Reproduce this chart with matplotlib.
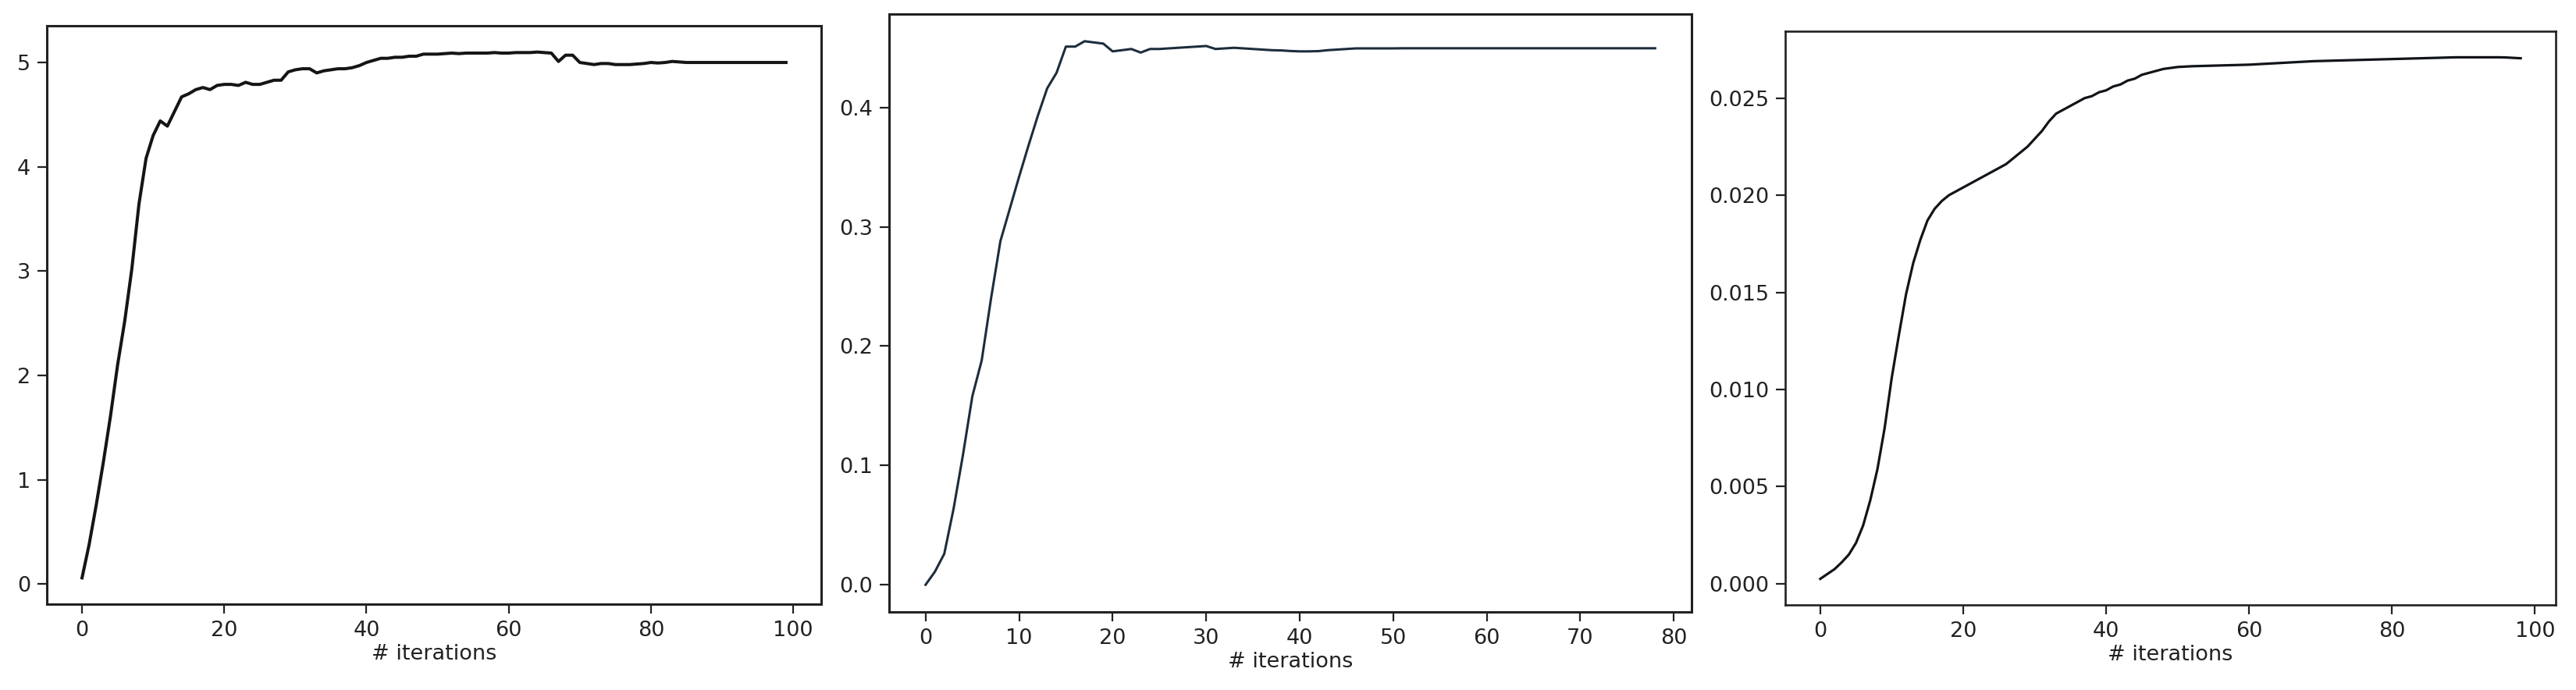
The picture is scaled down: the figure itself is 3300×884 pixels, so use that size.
import matplotlib
matplotlib.use("Agg")
import matplotlib.pyplot as plt
import numpy as np

# ---- data ----
p1_values = [0.06, 0.38, 0.76, 1.17, 1.61, 2.10, 2.52, 3.02, 3.64, 4.08,
             4.30, 4.44, 4.39, 4.53, 4.67, 4.70, 4.74, 4.76, 4.74, 4.78,
             4.79, 4.79, 4.78, 4.81, 4.79, 4.79, 4.81, 4.83, 4.83, 4.91,
             4.93, 4.94, 4.94, 4.90, 4.92, 4.93, 4.94, 4.94, 4.95, 4.97,
             5.00, 5.02, 5.04, 5.04, 5.05, 5.05, 5.06, 5.06, 5.08, 5.08,
             5.08, 5.085, 5.09, 5.085, 5.09, 5.09, 5.09, 5.09, 5.095, 5.09,
             5.09, 5.095, 5.095, 5.095, 5.10, 5.095, 5.09, 5.01, 5.07, 5.07,
             5.00, 4.99, 4.98, 4.99, 4.99, 4.98, 4.98, 4.98, 4.985, 4.99,
             5.00, 4.995, 5.00, 5.01, 5.005, 5.00, 5.00, 5.00, 5.00, 5.00,
             5.00, 5.00, 5.00, 5.00, 5.00, 5.00, 5.00, 5.00, 5.00, 5.00]

p2_values = [0.0, 0.011, 0.026, 0.064, 0.109, 0.158, 0.188, 0.240, 0.288, 0.315,
             0.342, 0.368, 0.393, 0.416, 0.429, 0.451, 0.451, 0.4555, 0.4545, 0.4535,
             0.447, 0.448, 0.449, 0.446, 0.449, 0.449, 0.4495, 0.450, 0.4505, 0.451,
             0.4515, 0.449, 0.4495, 0.450, 0.4495, 0.449, 0.4485, 0.448, 0.4478, 0.4473,
             0.447, 0.447, 0.4472, 0.448, 0.4485, 0.449, 0.4495, 0.4495, 0.4495, 0.4495,
             0.4495, 0.4496, 0.4496, 0.4496, 0.4496, 0.4496, 0.4496, 0.4496, 0.4496, 0.4496,
             0.4496, 0.4496, 0.4496, 0.4496, 0.4496, 0.4496, 0.4496, 0.4496, 0.4496, 0.4496,
             0.4496, 0.4496, 0.4496, 0.4496, 0.4496, 0.4496, 0.4496, 0.4496, 0.4496]

p3_values = [0.00025, 0.0005, 0.00075, 0.0011, 0.0015, 0.0021, 0.0030, 0.0043, 0.0059, 0.0080,
             0.0106, 0.0128, 0.0149, 0.0165, 0.0177, 0.0187, 0.0193, 0.0197, 0.0200, 0.0202,
             0.0204, 0.0206, 0.0208, 0.0210, 0.0212, 0.0214, 0.0216, 0.0219, 0.0222, 0.0225,
             0.0229, 0.0233, 0.0238, 0.0242, 0.0244, 0.0246, 0.0248, 0.0250, 0.0251, 0.0253,
             0.0254, 0.0256, 0.0257, 0.0259, 0.0260, 0.0262, 0.0263, 0.0264, 0.0265, 0.02655,
             0.0266, 0.02662, 0.02664, 0.02665, 0.02666, 0.02667, 0.02668, 0.02669, 0.0267, 0.02671,
             0.02672, 0.02674, 0.02676, 0.02678, 0.0268, 0.02682, 0.02684, 0.02686, 0.02688, 0.0269,
             0.02691, 0.02692, 0.02693, 0.02694, 0.02695, 0.02696, 0.02697, 0.02698, 0.02699, 0.0270,
             0.02701, 0.02702, 0.02703, 0.02704, 0.02705, 0.02706, 0.02707, 0.02708, 0.02709, 0.0271,
             0.0271, 0.0271, 0.0271, 0.0271, 0.0271, 0.0271, 0.02709, 0.02707, 0.02705]

x_label = "# iterations"
line_colors = ["#151515", "#1c2d3c", "#111418"]
line_widths = [2.9, 2.2, 2.3]

positions = [
    [60 / 3300, 110 / 884, 992 / 3300, 741 / 884],
    [1139 / 3300, 100 / 884, 1028 / 3300, 766 / 884],
    [2287 / 3300, 109 / 884, 987 / 3300, 735 / 884],
]

plt.rcParams["font.family"] = "DejaVu Sans"
plt.rcParams["font.size"] = 19.5

fig = plt.figure(figsize=(33, 8.84), dpi=100)

series = [p1_values, p2_values, p3_values]
text_color = "#222222"
for i, vals in enumerate(series):
    ax = fig.add_axes(positions[i])
    x = np.arange(len(vals))
    ax.plot(x, vals, color=line_colors[i], lw=line_widths[i])
    for sp in ax.spines.values():
        sp.set_linewidth(2.2 if i < 2 else 1.9)
        sp.set_color("#222222")
    ax.tick_params(length=8.6, width=1.6, pad=6.5, labelsize=19.5,
                   colors=text_color)
    ax.set_xlabel(x_label, fontsize=19.5, color=text_color, labelpad=3)

fig.savefig("out.png", dpi=100, facecolor="white")
